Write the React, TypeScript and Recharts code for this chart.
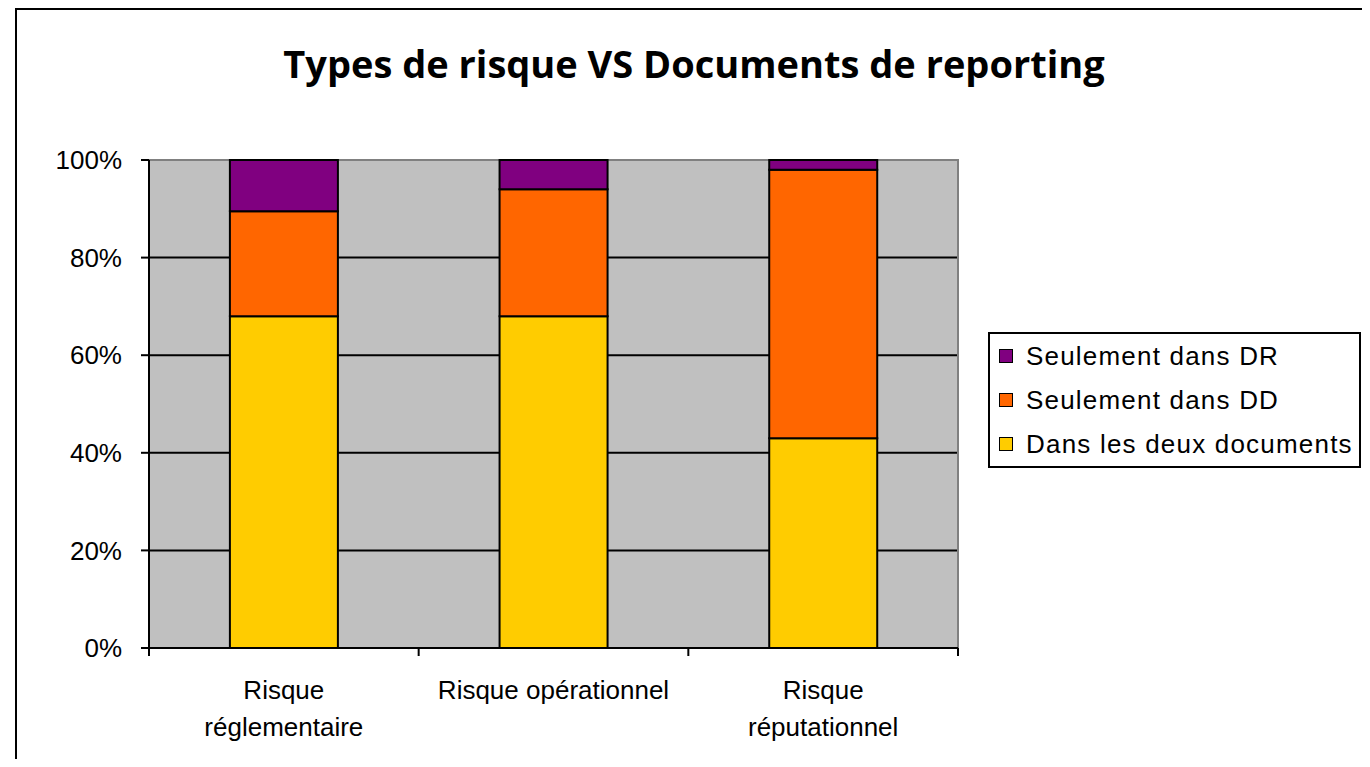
import { Bar, BarChart, CartesianGrid, Legend, ReferenceArea, XAxis, YAxis } from 'recharts';

// categories and their wrapped tick labels
const categories = ['Risque réglementaire', 'Risque opérationnel', 'Risque réputationnel'];
const tickLines = [['Risque', 'réglementaire'], ['Risque opérationnel'], ['Risque', 'réputationnel']];

// shares in % (stacked to 100)
const dansLesDeux = [68, 68, 43];
const seulementDD = [21.5, 26, 55];
const seulementDR = [10.5, 6, 2];

const yTicks = [0, 20, 40, 60, 80, 100];

const series = [
  { key: 'deux', name: 'Dans les deux documents', color: '#FFCC00' },
  { key: 'dd', name: 'Seulement dans DD', color: '#FF6600' },
  { key: 'dr', name: 'Seulement dans DR', color: '#800080' },
];

const data = categories.map((name, i) => ({
  name,
  deux: dansLesDeux[i],
  dd: seulementDD[i],
  dr: seulementDR[i],
}));

const FONT = '"Liberation Sans", Arial, sans-serif';

const CategoryTick = (props: any) => {
  const { x, y, payload, index } = props;
  const half = payload?.offset ?? 0;
  const lines = tickLines[index] ?? [String(payload?.value ?? '')];
  const last = index === categories.length - 1;
  return (
    <g>
      <line x1={x - half} x2={x - half} y1={y} y2={y + 8} stroke="#000" strokeWidth={2} />
      {last && <line x1={x + half} x2={x + half} y1={y} y2={y + 8} stroke="#000" strokeWidth={2} />}
      <text x={x} y={y} textAnchor="middle" fontFamily={FONT} fontSize={26} fill="#000">
        {lines.map((l, i) => (
          <tspan key={i} x={x} dy={i === 0 ? 51 : 37}>
            {l}
          </tspan>
        ))}
      </text>
    </g>
  );
};

const LegendBox = (props: any) => {
  const items = [...(props.payload ?? [])].reverse();
  return (
    <div
      style={{
        border: '2px solid #000',
        background: '#fff',
        width: 373,
        boxSizing: 'border-box',
      }}
    >
      {items.map((it: any) => (
        <div key={it.value} style={{ display: 'flex', alignItems: 'center', height: 44 }}>
          <span
            style={{
              width: 14,
              height: 14,
              background: it.color,
              border: '1.5px solid #000',
              boxSizing: 'border-box',
              marginLeft: 9,
              marginRight: 13,
            }}
          />
          <span style={{ fontFamily: FONT, fontSize: 26, letterSpacing: 1.2, lineHeight: 1, color: '#000' }}>
            {it.value}
          </span>
        </div>
      ))}
    </div>
  );
};

export default function App() {
  return (
    <div style={{ position: 'relative', width: 1354, height: 751, overflow: 'hidden', background: '#fff' }}>
      <div
        style={{
          position: 'absolute',
          left: 7,
          top: 0,
          width: 3000,
          height: 3000,
          border: '2px solid #000',
        }}
      />
      <div
        style={{
          position: 'absolute',
          left: 0,
          top: 36,
          width: 1372,
          textAlign: 'center',
          fontFamily: '"Open Sans", Lato, sans-serif',
          fontWeight: 700,
          fontSize: 38,
          lineHeight: '38px',
          color: '#000',
        }}
      >
        Types de risque VS Documents de reporting
      </div>
      <div style={{ position: 'absolute', left: 0, top: 0 }}>
        <BarChart
          width={1354}
          height={751}
          data={data}
          barCategoryGap="30%"
          margin={{ top: 152, right: 404, left: 81, bottom: 21 }}
        >
          <CartesianGrid vertical={false} stroke="#000" strokeWidth={2} fill="#C0C0C0" fillOpacity={1} />
          <ReferenceArea y1={0} y2={100} fill="none" stroke="#808080" strokeWidth={2} />
          <XAxis
            dataKey="name"
            height={90}
            axisLine={{ stroke: '#000', strokeWidth: 2 }}
            tickLine={false}
            tickSize={0}
            tickMargin={0}
            interval={0}
            tick={<CategoryTick />}
          />
          <YAxis
            width={60}
            domain={[0, 100]}
            ticks={yTicks}
            interval={0}
            tickFormatter={(v: number) => `${v}%`}
            axisLine={{ stroke: '#000', strokeWidth: 2 }}
            tickLine={{ stroke: '#000', strokeWidth: 2 }}
            tickSize={8}
            tickMargin={19}
            tick={{ fontFamily: FONT, fontSize: 26, fill: '#000' }}
          />
          <Legend
            layout="horizontal"
            verticalAlign="middle"
            align="center"
            content={<LegendBox />}
            wrapperStyle={{ left: 980, top: 324, width: 373 }}
          />
          {series.map((s) => (
            <Bar
              key={s.key}
              dataKey={s.key}
              name={s.name}
              stackId="a"
              fill={s.color}
              stroke="#000"
              strokeWidth={2}
              isAnimationActive={false}
            />
          ))}
        </BarChart>
      </div>
    </div>
  );
}
